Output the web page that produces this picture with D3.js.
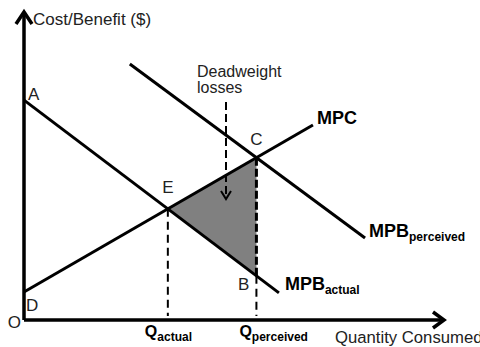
<!DOCTYPE html>
<html>
<head>
<meta charset="utf-8">
<script src="https://cdn.jsdelivr.net/npm/d3@7"></script>
<style>
  html, body { margin: 0; padding: 0; background: #fff; overflow: hidden; }
  svg { display: block; font-family: "Liberation Sans", Arial, sans-serif; }
</style>
</head>
<body>
<script>
// curve end points, in quantity / price units
const mpbActualQ = [0, 6.07];
const mpbActualP = [7.14, 0.88];
const mpcQ = [0, 6.88];
const mpcP = [0.91, 6.33];
const mpbPerceivedQ = [2.52, 8.12];
const mpbPerceivedP = [8.31, 2.66];

const axisLabels = ["Cost/Benefit ($)", "Quantity Consumed"];
const pointLabels = ["A", "D", "E", "C", "B", "O"];

const width = 480, height = 347;

const svg = d3.select("body").append("svg")
    .attr("width", width)
    .attr("height", height);

let x = d3.scaleLinear().domain([0, 10]).range([24, 444]);
let y = d3.scaleLinear().domain([0, 10]).range([320, 12]);

const toPts = (qs, ps) => qs.map((q, i) => ({ q: q, p: ps[i] }));
const mpbActual = toPts(mpbActualQ, mpbActualP);
const mpc = toPts(mpcQ, mpcP);
const mpbPerceived = toPts(mpbPerceivedQ, mpbPerceivedP);

function slope(l) { return (l[1].p - l[0].p) / (l[1].q - l[0].q); }
function at(l, q) { return l[0].p + slope(l) * (q - l[0].q); }
function cross(a, b) {
    let sa = slope(a), sb = slope(b);
    let q = (b[0].p - sb * b[0].q - a[0].p + sa * a[0].q) / (sa - sb);
    return { q: q, p: at(a, q) };
}

const E = cross(mpbActual, mpc);
const C = cross(mpbPerceived, mpc);
const B = { q: C.q, p: at(mpbActual, C.q) };

let line = d3.line()
    .x(d => x(d.q))
    .y(d => y(d.p));

// deadweight loss triangle
svg.append("path")
    .datum([E, C, B])
    .attr("d", d3.line().x(d => x(d.q)).y(d => y(d.p)).curve(d3.curveLinearClosed))
    .attr("fill", "#808080")
    .attr("stroke", "none");

// dashed drops to the quantity axis
svg.append("line")
    .attr("x1", x(E.q)).attr("x2", x(E.q))
    .attr("y1", y(E.p)).attr("y2", y(0) - 4)
    .attr("stroke", "#000").attr("stroke-width", 2)
    .attr("stroke-dasharray", "8,5");

svg.append("line")
    .attr("x1", x(C.q)).attr("x2", x(C.q))
    .attr("y1", y(C.p)).attr("y2", y(B.p))
    .attr("stroke", "#000").attr("stroke-width", 3)
    .attr("stroke-dasharray", "8,3");

svg.append("line")
    .attr("x1", x(C.q)).attr("x2", x(C.q))
    .attr("y1", y(B.p)).attr("y2", y(0) - 4)
    .attr("stroke", "#000").attr("stroke-width", 2)
    .attr("stroke-dasharray", "8,5");

// curves
[mpbActual, mpc, mpbPerceived].forEach(d => {
    svg.append("path")
        .datum(d)
        .attr("d", line)
        .attr("fill", "none")
        .attr("stroke", "#000")
        .attr("stroke-width", 3);
});

// axes
svg.append("path")
    .attr("d", "M" + x(0) + "," + y(0) + "V" + y(10) + "M" + x(0) + "," + y(0) + "H" + x(10))
    .attr("fill", "none")
    .attr("stroke", "#000")
    .attr("stroke-width", 3.5);

svg.append("path")
    .attr("d", "M" + (x(0) - 8) + "," + (y(10) + 12) + "L" + x(0) + "," + y(10) + "L" + (x(0) + 8) + "," + (y(10) + 12))
    .attr("fill", "none").attr("stroke", "#000").attr("stroke-width", 3.5);

svg.append("path")
    .attr("d", "M" + (x(10) - 11) + "," + (y(0) - 8) + "L" + x(10) + "," + y(0) + "L" + (x(10) - 11) + "," + (y(0) + 8))
    .attr("fill", "none").attr("stroke", "#000").attr("stroke-width", 3.5);

svg.append("text")
    .attr("x", 33).attr("y", 25)
    .attr("font-size", 17).attr("fill", "#222")
    .text(axisLabels[0]);

svg.append("text")
    .attr("x", 335).attr("y", 343)
    .attr("font-size", 16.7).attr("fill", "#222")
    .text(axisLabels[1]);

// deadweight note + arrow
let note = svg.append("text")
    .attr("font-size", 16).attr("fill", "#222");
note.append("tspan").attr("x", 197).attr("y", 77).text("Deadweight");
note.append("tspan").attr("x", 197).attr("y", 93).text("losses");

let ax = 226;
svg.append("line")
    .attr("x1", ax).attr("x2", ax)
    .attr("y1", 102).attr("y2", 198)
    .attr("stroke", "#000").attr("stroke-width", 2)
    .attr("stroke-dasharray", "8,4");
svg.append("path")
    .attr("d", "M" + (ax - 5) + ",191L" + ax + ",199L" + (ax + 5) + ",191")
    .attr("fill", "none").attr("stroke", "#000").attr("stroke-width", 2);

// point letters
const letterPos = [
    [x(0) + 4, y(mpbActual[0].p), "start"],
    [x(0) + 2, y(mpc[0].p) + 19, "start"],
    [x(E.q), y(E.p) - 16, "middle"],
    [x(C.q), y(C.p) - 13, "middle"],
    [x(B.q) - 7, y(B.p) + 14, "end"],
    [x(0) - 3, y(0) + 8, "end"]
];
pointLabels.forEach((t, i) => {
    svg.append("text")
        .attr("x", letterPos[i][0]).attr("y", letterPos[i][1])
        .attr("text-anchor", letterPos[i][2])
        .attr("font-size", 17).attr("fill", "#222")
        .text(t);
});

// curve names
function subLabel(px, py, main, sub, size) {
    let t = svg.append("text")
        .attr("x", px).attr("y", py)
        .attr("font-size", size).attr("font-weight", "bold").attr("fill", "#000");
    t.append("tspan").text(main);
    if (sub) t.append("tspan").attr("font-size", 12).attr("dy", 4).text(sub);
}

subLabel(x(mpc[1].q) + 4, y(mpc[1].p) - 1, "MPC", null, 18);
subLabel(x(mpbPerceived[1].q) + 4, y(mpbPerceived[1].p) - 1, "MPB", "perceived", 18);
subLabel(x(mpbActual[1].q) + 6, y(mpbActual[1].p) - 3, "MPB", "actual", 18);
subLabel(x(E.q) - 23, 337, "Q", "actual", 16);
subLabel(x(C.q) - 17, 337, "Q", "perceived", 16);
</script>
</body>
</html>
